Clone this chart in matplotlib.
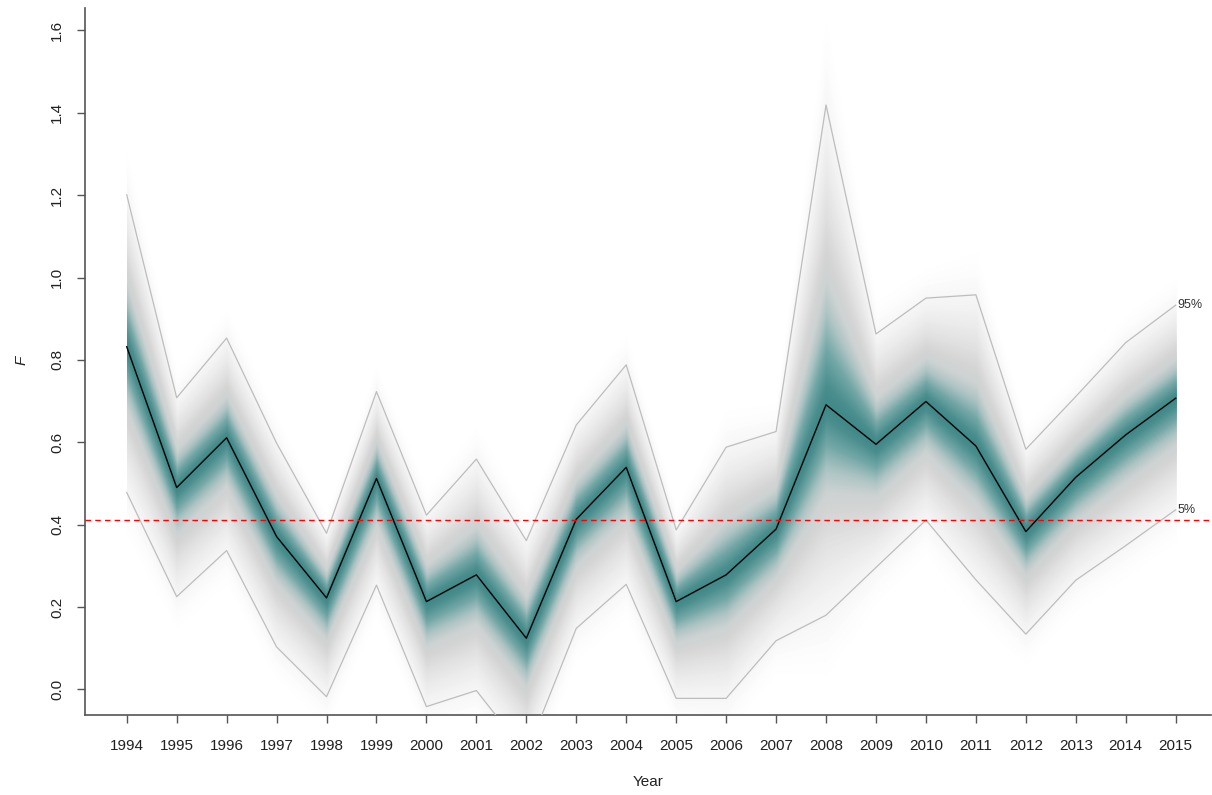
import numpy as np
import matplotlib
matplotlib.use("Agg")
import matplotlib.pyplot as plt
from matplotlib.colors import LinearSegmentedColormap
from statistics import NormalDist

plt.rcParams['font.family'] = ['Liberation Sans', 'DejaVu Sans']

years = list(range(1994, 2016))
median = [0.832, 0.490, 0.611, 0.371, 0.222, 0.512, 0.213, 0.278, 0.124, 0.413, 0.539,
          0.213, 0.278, 0.389, 0.691, 0.595, 0.699, 0.591, 0.383, 0.515, 0.618, 0.707]
q95 = [1.201, 0.708, 0.853, 0.598, 0.379, 0.723, 0.423, 0.559, 0.361, 0.642, 0.788,
       0.387, 0.588, 0.626, 1.419, 0.863, 0.950, 0.958, 0.583, 0.711, 0.842, 0.933]
q05 = [0.478, 0.225, 0.337, 0.103, -0.018, 0.253, -0.042, -0.003, -0.157, 0.148, 0.255,
       -0.022, -0.022, 0.118, 0.180, 0.296, 0.411, 0.266, 0.134, 0.265, 0.349, 0.436]
ref_level = 0.41
x_ticks = years
y_ticks = [0.0, 0.2, 0.4, 0.6, 0.8, 1.0, 1.2, 1.4, 1.6]

x = np.array(years, dtype=float)
med = np.array(median)
up = np.array(q95)
lo = np.array(q05)
nd = NormalDist()
z95 = nd.inv_cdf(0.95)
sig_u = (up - med) / z95
sig_l = (med - lo) / z95


def quant(p):
    z = nd.inv_cdf(p)
    return med + z * (sig_u if p > 0.5 else sig_l)


W, H = 1212, 795
fig = plt.figure(figsize=(W / 100, H / 100), dpi=100)
ax = fig.add_axes([85 / W, 80 / H, (1211 - 85) / W, (715 - 8) / H])

cmap = LinearSegmentedColormap.from_list(
    "fan",
    [(0.0, "#3f8787"), (0.10, "#4c8f8f"), (0.25, "#73a7a7"), (0.40, "#adc4c4"),
     (0.52, "#cdd2d2"), (0.62, "#d4d4d4"), (0.80, "#e7e7e7"), (0.92, "#f5f5f5"),
     (1.0, "#ffffff")])

coverages = np.linspace(0.975, 0.0, 100)
for c in coverages:
    if c <= 0:
        continue
    pl = (1 - c) / 2
    pu = (1 + c) / 2
    ax.fill_between(x, quant(pl), quant(pu), color=cmap(c / 0.975), linewidth=0,
                    antialiased=False, zorder=1)

ax.plot(x, up, color="#bdbdbd", lw=0.9, zorder=3)
ax.plot(x, lo, color="#bdbdbd", lw=0.9, zorder=3)
ax.plot(x, med, color="black", lw=1.0, zorder=4)
ax.axhline(ref_level, color="red", lw=1.0, ls=(0, (4, 3)), zorder=5)

ax.text(x[-1] + 0.03, up[-1], "95%", fontsize=9, color="#333333", ha="left", va="center")
ax.text(x[-1] + 0.03, lo[-1], "5%", fontsize=9, color="#333333", ha="left", va="center")

ax.set_xlim(1993.165, 2015.707)
ax.set_ylim(-0.0624, 1.6546)
ax.set_xticks(x_ticks)
ax.set_xticklabels([str(y) for y in x_ticks], fontsize=11)
ax.set_yticks(y_ticks)
ax.set_yticklabels([f"{v:.1f}" for v in y_ticks], fontsize=11, rotation=90, va="center")
ax.tick_params(axis="both", direction="out", length=6, width=1, color="#555555", labelcolor="#222222")
ax.tick_params(axis="x", pad=11)
ax.tick_params(axis="y", pad=9)
for s in ["top", "right"]:
    ax.spines[s].set_visible(False)
for s in ["left", "bottom"]:
    ax.spines[s].set_color("#555555")
    ax.spines[s].set_linewidth(1.2)

fig.text(648 / W, 1 - 782 / H, "Year", fontsize=11, ha="center", va="center", color="#222222")
fig.text(22 / W, 1 - 360 / H, "F", fontsize=11, style="italic", rotation=90,
         ha="center", va="center", color="#222222")

fig.savefig("out.png", dpi=100)
